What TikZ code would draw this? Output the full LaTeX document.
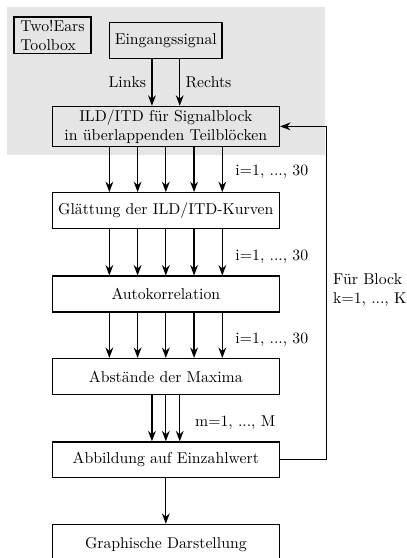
\documentclass[tikz,border=0pt]{standalone}
\usetikzlibrary{arrows.meta}

\begin{document}
\begin{tikzpicture}
\useasboundingbox (0, 0) rectangle (9.06, -12.45);
\fill [gray!20] (0.16, -0.16) rectangle (7.25, -3.46);

\begin{scope}[every node/.style={rectangle,thick,draw,inner ysep=2pt,minimum height=0.8cm}]
    \node (toolbox) at (1.17, -0.79) [align=left, inner xsep=2pt, minimum width=1.72cm] {Two!Ears\\Toolbox};
    \node (input) at (3.70, -0.91) {Eingangssignal};

    \node (ild) at (3.70, -2.82) [align=center, minimum width=5.07cm] {ILD/ITD f\"ur Signalblock\\in \"uberlappenden Teilbl\"ocken};

    \node (smooth) at (3.70, -4.70) [minimum width=5.07cm] {Gl\"attung der ILD/ITD-Kurven};
    \node (acorr) at (3.70, -6.56) [minimum width=5.07cm] {Autokorrelation};
    \node (maxima) at (3.70, -8.40) [minimum width=5.07cm] {Abst\"ande der Maxima};
    \node (single) at (3.70, -10.26) [minimum width=5.07cm] {Abbildung auf Einzahlwert};

    \node (plot) at (3.70, -12.15) [minimum width=5.07cm, minimum height=0.9cm] {Graphische Darstellung};
\end{scope}

\begin{scope}[>={Stealth[black]}, thick]
    \path [->] ([xshift=-0.31cm]input.south) edge node [left] {Links} ([xshift=-0.31cm]ild.north);
    \path [->] ([xshift=0.31cm]input.south) edge node [right] {Rechts} ([xshift=0.31cm]ild.north);

    \foreach \dx in {-1.26, -0.63, 0, 0.63, 1.26} {
        \draw [->] ([xshift=\dx cm]ild.south) -- ([xshift=\dx cm]smooth.north);
        \draw [->] ([xshift=\dx cm]smooth.south) -- ([xshift=\dx cm]acorr.north);
        \draw [->] ([xshift=\dx cm]acorr.south) -- ([xshift=\dx cm]maxima.north);
    }
    \foreach \dx in {-0.31, 0, 0.31}
        \draw [->] ([xshift=\dx cm]maxima.south) -- ([xshift=\dx cm]single.north);

    \draw [->] (single.south) -- (plot.north);
    \draw [->] (single.east) -- ++(1.03, 0) |- (ild.east);
\end{scope}

\node (loop1) at (5.13, -3.84) [anchor=west] {i=1, ..., 30};
\node (loop2) at (5.13, -5.74) [anchor=west] {i=1, ..., 30};
\node (loop3) at (5.13, -7.59) [anchor=west] {i=1, ..., 30};
\node (loopm) at (4.23, -9.42) [anchor=west] {m=1, ..., M};
\node (loopk) at (7.31, -6.47) [anchor=west, align=left] {F\"ur Block\\k=1, ..., K};
\end{tikzpicture}
\end{document}
